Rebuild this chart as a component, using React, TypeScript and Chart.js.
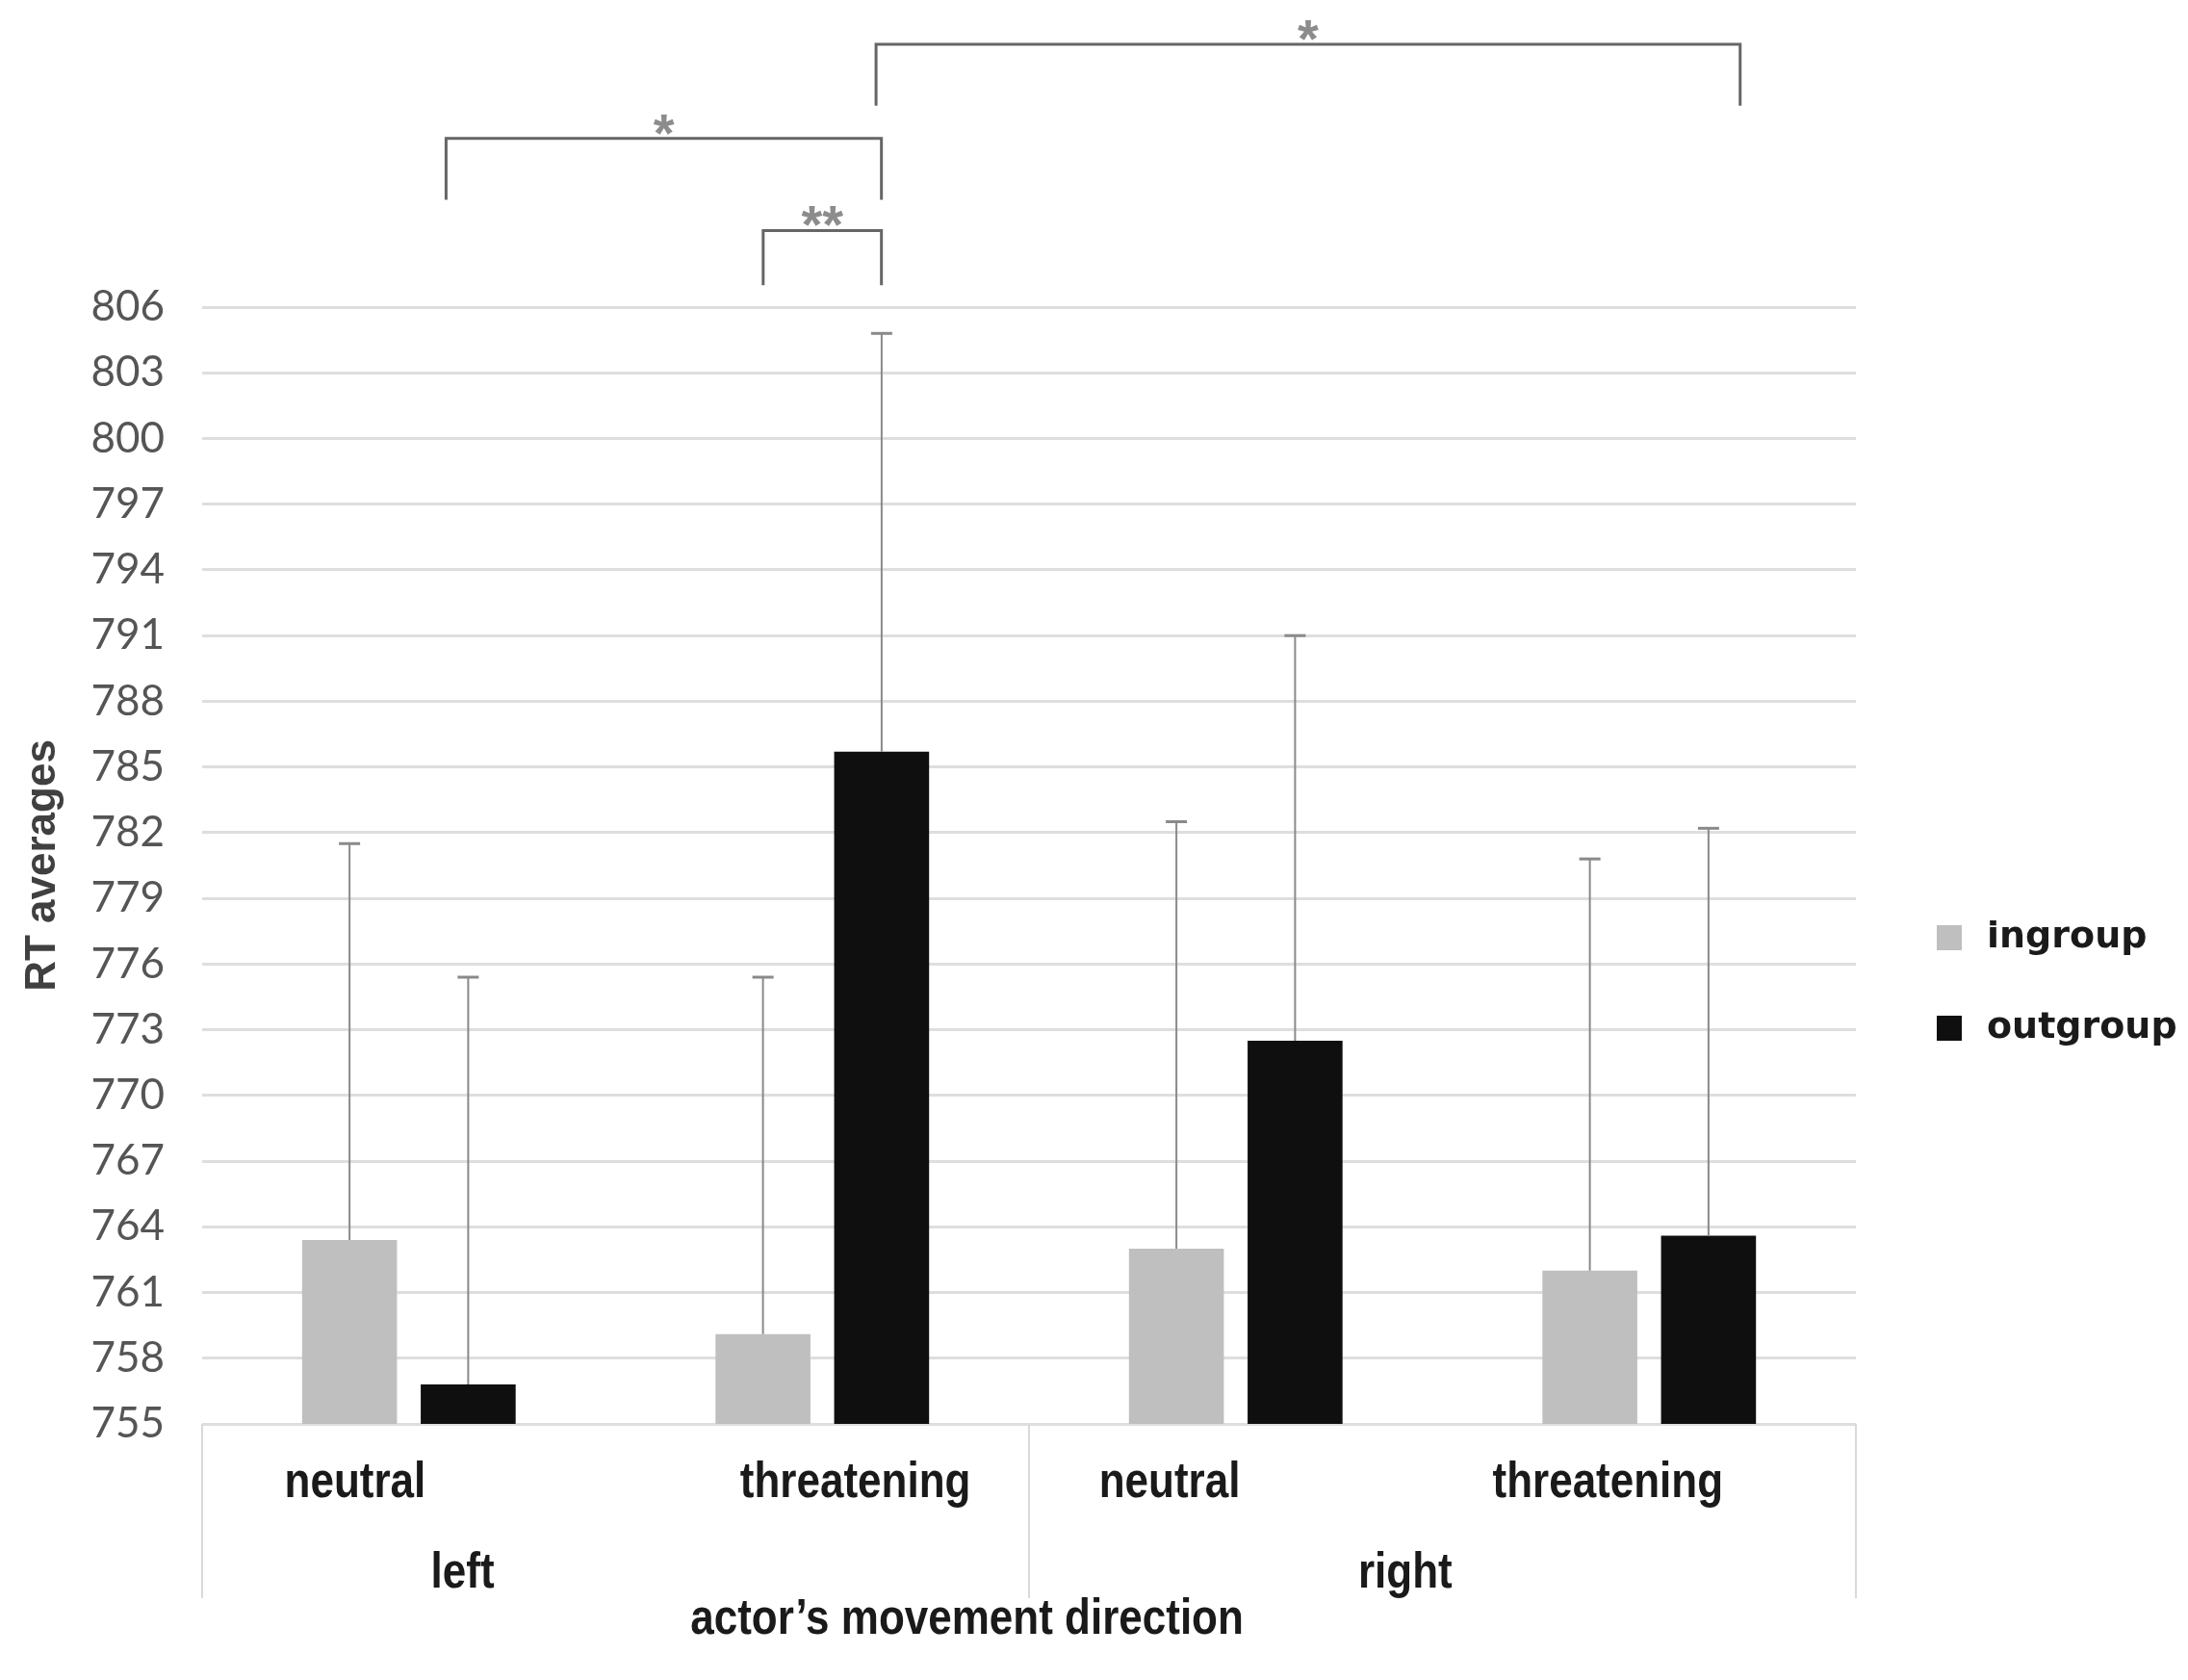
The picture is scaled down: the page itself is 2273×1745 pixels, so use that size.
import React, { useEffect, useRef } from 'react';
import { Chart, registerables } from 'chart.js';

Chart.register(...registerables);

// x categories: emotional expression, grouped by the actor's movement direction
const expressions = ['neutral', 'threatening', 'neutral', 'threatening'];
const directions = ['left', 'right'];
const groupNames = ['ingroup', 'outgroup'];

// RT means and their (upper) error bars
const ingroupMeans = [763.4, 759.1, 763.0, 762.0];
const outgroupMeans = [756.8, 785.7, 772.5, 763.6];
const ingroupErrors = [18.1, 16.3, 19.5, 18.8];
const outgroupErrors = [18.6, 19.1, 18.5, 18.6];

const yMin = 755;
const yMax = 806;
const yStep = 3;

// significance brackets (ends in category units, heights in RT units)
const bracketFrom = [0.857, 0.09, 1.13];
const bracketTo = [1.143, 1.143, 3.22];
const bracketTop = [809.5, 813.7, 818.0];
const bracketFoot = [807.0, 810.9, 815.2];
const bracketMarks = ['**', '*', '*'];

const barColors = ['#bfbfbf', '#0f0f0f'];

// label placement tweaks (category units)
const labelShift = [-0.13, 0.08, -0.16, -0.1];
const directionAt = [0.13, 2.41];

// text drawn a little taller than wide, like the original export
const tallText = (ctx: CanvasRenderingContext2D, text: string, x: number, y: number) => {
   ctx.save();
   ctx.translate(x, y);
   ctx.scale(1, 1.18);
   ctx.fillText(text, 0, 0);
   ctx.restore();
};

const overlay = {
   id: 'overlay',
   afterDraw(chart: any) {
      const { ctx, chartArea, scales } = chart;
      const x = scales.x;
      const y = scales.y;
      const bottom = chartArea.bottom;
      ctx.save();

      // error bars
      const errs = [ingroupErrors, outgroupErrors];
      chart.data.datasets.forEach((ds: any, di: number) => {
         const meta = chart.getDatasetMeta(di);
         meta.data.forEach((bar: any, i: number) => {
            const top = y.getPixelForValue(ds.data[i] + errs[di][i]);
            ctx.strokeStyle = '#8a8a8a';
            ctx.lineWidth = 2;
            ctx.beginPath();
            ctx.moveTo(bar.x, bar.y);
            ctx.lineTo(bar.x, top);
            ctx.stroke();
            ctx.lineWidth = 3;
            ctx.beginPath();
            ctx.moveTo(bar.x - 11, top);
            ctx.lineTo(bar.x + 11, top);
            ctx.stroke();
         });
      });

      // significance brackets
      bracketMarks.forEach((mark, i) => {
         const x1 = x.getPixelForValue(bracketFrom[i]);
         const x2 = x.getPixelForValue(bracketTo[i]);
         const yt = y.getPixelForValue(bracketTop[i]);
         const yf = y.getPixelForValue(bracketFoot[i]);
         ctx.strokeStyle = '#666666';
         ctx.lineWidth = 3;
         ctx.beginPath();
         ctx.moveTo(x1, yf);
         ctx.lineTo(x1, yt);
         ctx.lineTo(x2, yt);
         ctx.lineTo(x2, yf);
         ctx.stroke();
         ctx.fillStyle = '#8c8c8c';
         ctx.font = 'bold 56px "Liberation Sans", Arial, sans-serif';
         ctx.textAlign = 'center';
         ctx.textBaseline = 'alphabetic';
         ctx.fillText(mark, (x1 + x2) / 2, yt + 13);
      });

      // category axis below the plot
      ctx.strokeStyle = '#d9d9d9';
      ctx.lineWidth = 2;
      [chartArea.left, x.getPixelForValue(1.5), chartArea.right].forEach((px: number) => {
         ctx.beginPath();
         ctx.moveTo(px, bottom);
         ctx.lineTo(px, bottom + 181);
         ctx.stroke();
      });
      ctx.fillStyle = '#1a1a1a';
      ctx.font = 'bold 44px "Liberation Sans", Arial, sans-serif';
      ctx.textAlign = 'center';
      ctx.textBaseline = 'middle';
      expressions.forEach((lab, i) => {
         tallText(ctx, lab, x.getPixelForValue(i + labelShift[i]), bottom + 62);
      });
      directions.forEach((lab, i) => {
         tallText(ctx, lab, x.getPixelForValue(directionAt[i]), bottom + 156);
      });
      tallText(ctx, 'actor\u2019s movement direction', x.getPixelForValue(1.35), bottom + 204);

      // legend
      ctx.font = 'bold 38px "DejaVu Sans", sans-serif';
      ctx.textAlign = 'left';
      groupNames.forEach((name, i) => {
         const cy = chartArea.top + 655 + i * 94;
         ctx.fillStyle = barColors[i];
         ctx.fillRect(chartArea.right + 84, cy - 13, 26, 26);
         ctx.fillStyle = '#1a1a1a';
         ctx.fillText(name, chartArea.right + 136, cy);
      });

      ctx.restore();
   },
};

const RTChart = () => {
   const canvasRef = useRef<HTMLCanvasElement | null>(null);

   useEffect(() => {
      if (!canvasRef.current) return;
      const chart = new Chart(canvasRef.current, {
         type: 'bar',
         data: {
            labels: expressions,
            datasets: [
               {
                  label: groupNames[0],
                  data: ingroupMeans,
                  backgroundColor: barColors[0],
                  categoryPercentage: 0.574,
                  barPercentage: 0.8,
               },
               {
                  label: groupNames[1],
                  data: outgroupMeans,
                  backgroundColor: barColors[1],
                  categoryPercentage: 0.574,
                  barPercentage: 0.8,
               },
            ],
         },
         options: {
            responsive: false,
            devicePixelRatio: 1,
            animation: false,
            layout: { padding: { left: 0, top: 319, right: 345, bottom: 266 } },
            plugins: {
               legend: { display: false },
               tooltip: { enabled: false },
            },
            scales: {
               x: { display: false },
               y: {
                  min: yMin,
                  max: yMax,
                  afterFit: (scale: any) => {
                     scale.width = 210;
                  },
                  ticks: {
                     stepSize: yStep,
                     padding: 39,
                     color: '#555555',
                     font: { family: 'Lato', size: 44 },
                  },
                  grid: { color: '#dedede', lineWidth: 3, drawTicks: false },
                  border: { display: false },
                  title: {
                     display: true,
                     text: 'RT averages',
                     color: '#404040',
                     font: { family: '"Liberation Sans", Arial', size: 44, weight: 'bold' },
                     padding: { top: 18, bottom: 0 },
                  },
               },
            },
         },
         plugins: [overlay],
      });
      return () => {
         chart.destroy();
      };
   }, []);

   return (
      <div style={{ position: 'fixed', left: 0, top: 0, background: '#fff' }}>
         <canvas ref={canvasRef} width='2273' height='1745' />
      </div>
   );
};

export default function App() {
   return <RTChart />;
}
